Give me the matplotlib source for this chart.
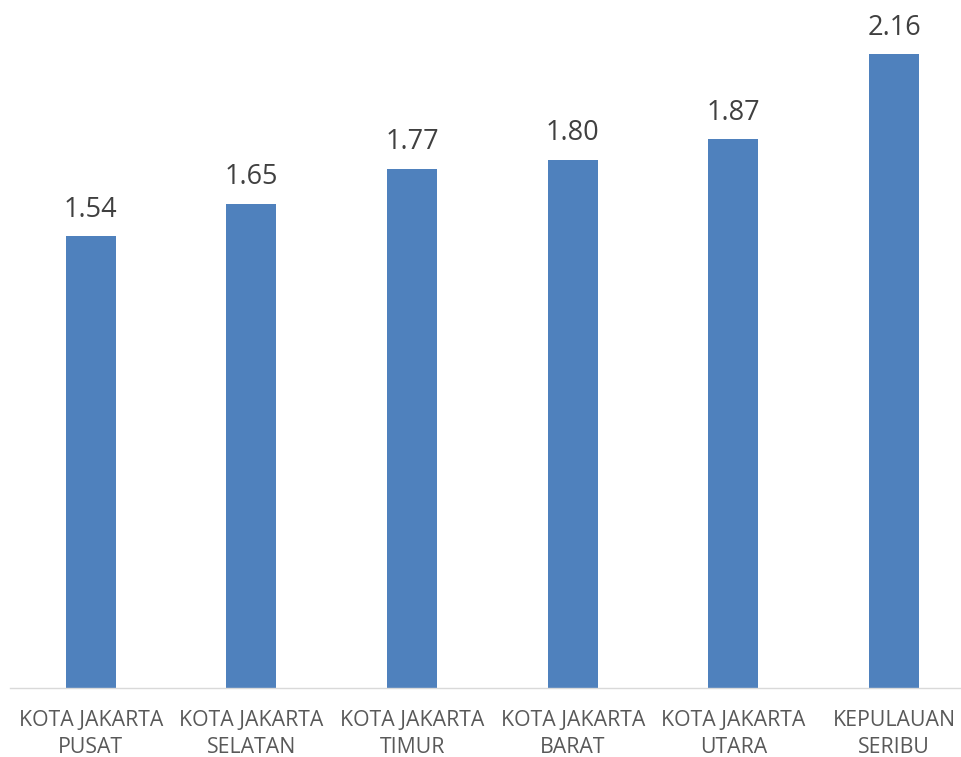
import matplotlib
matplotlib.use("Agg")
import matplotlib.pyplot as plt

categories = ["KOTA JAKARTA\nPUSAT", "KOTA JAKARTA\nSELATAN", "KOTA JAKARTA\nTIMUR",
              "KOTA JAKARTA\nBARAT", "KOTA JAKARTA\nUTARA", "KEPULAUAN\nSERIBU"]
values = [1.54, 1.65, 1.77, 1.80, 1.87, 2.16]

plt.rcParams['font.family'] = ['Open Sans', 'DejaVu Sans']

fig = plt.figure(figsize=(9.61, 7.57), dpi=100)
ax = fig.add_axes([10.4/961, 69/757, 964/961, 688/757])

x = list(range(len(categories)))
bars = ax.bar(x, values, width=0.311, color="#4F81BD", zorder=2)
for xi, v in zip(x, values):
    ax.annotate(f"{v:.2f}", (xi, v), xytext=(0, 9), textcoords="offset points",
                ha="center", va="bottom", fontsize=19.5, color="#404040")

ax.set_xlim(-0.5, len(categories) - 0.5)
ax.set_ylim(0, 688/293.5)
ax.set_xticks(x)
ax.set_xticklabels(categories, fontsize=15.3, color="#595959", linespacing=1.38)
ax.tick_params(axis="x", length=0, pad=16)
ax.set_yticks([])
for s in ["top", "right", "left"]:
    ax.spines[s].set_visible(False)
ax.spines["bottom"].set_color("#D9D9D9")
ax.spines["bottom"].set_linewidth(1.0)

fig.savefig("out.png", dpi=100, facecolor="white")
